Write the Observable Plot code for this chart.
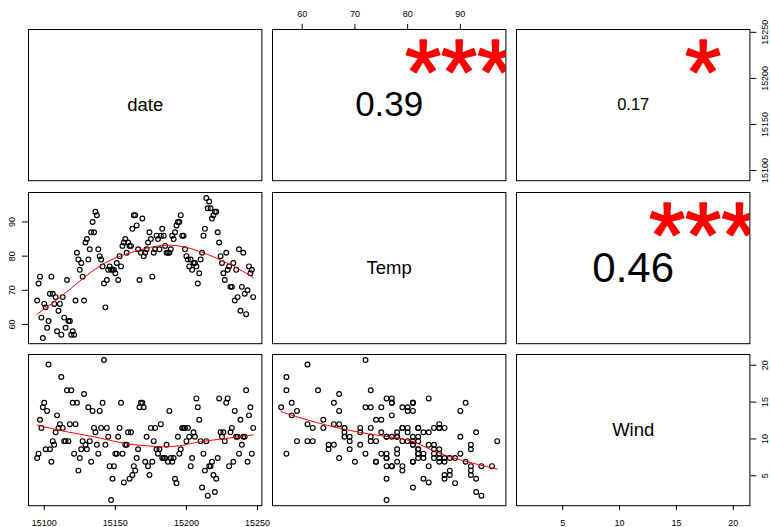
<!DOCTYPE html>
<html><head><meta charset="utf-8">
<script src="https://cdn.jsdelivr.net/npm/d3@7"></script>
<script src="https://cdn.jsdelivr.net/npm/@observablehq/plot@0.6"></script>
<style>
body{margin:0;background:#fff;}
#chart{position:relative;width:770px;height:527px;font-family:"Liberation Sans",Arial,sans-serif;}
#chart svg{position:absolute;overflow:visible;}
</style></head><body><div id="chart"></div>
<script>
// airquality 1973 values, dated 2011-05-01 .. 2011-09-30 (days since 1970-01-01)
const firstDay = 15095;
const temp = [67,72,74,62,56,66,65,59,61,69,74,69,66,68,58,64,66,57,68,62,59,73,61,61,57,58,57,67,81,79,76,
78,74,67,84,85,79,82,87,90,87,93,92,82,80,79,77,72,65,73,76,77,76,76,76,75,78,73,80,77,83,
84,85,81,84,83,83,88,92,92,89,82,73,81,91,80,81,82,84,87,85,74,81,82,86,85,82,86,88,86,83,81,
81,81,82,86,85,87,89,90,90,92,86,86,82,80,79,77,79,76,78,78,77,72,75,79,81,86,88,97,94,96,94,
91,92,93,93,87,84,80,78,75,73,81,76,77,71,71,78,67,76,68,82,64,71,81,69,63,70,77,75,76,68];
const wind = [7.4,8.0,12.6,11.5,14.3,14.9,8.6,13.8,20.1,8.6,6.9,9.7,9.2,10.9,13.2,11.5,12.0,18.4,11.5,9.7,9.7,16.6,9.7,12.0,16.6,14.9,8.0,12.0,14.9,5.7,7.4,
8.6,9.7,16.1,9.2,8.6,14.3,9.7,6.9,13.8,11.5,10.9,9.2,8.0,13.8,11.5,14.9,20.7,9.2,11.5,10.3,6.3,1.7,4.6,6.3,8.0,8.0,10.3,11.5,14.9,8.0,
4.1,9.2,9.2,10.9,4.6,10.9,5.1,6.3,5.7,7.4,8.6,14.3,14.9,14.9,14.3,6.9,10.3,6.3,5.1,11.5,6.9,9.7,11.5,8.6,8.0,8.6,12.0,7.4,7.4,7.4,9.2,
6.9,13.8,7.4,6.9,7.4,4.6,4.0,10.3,8.0,8.6,11.5,11.5,11.5,9.7,11.5,10.3,6.3,7.4,10.9,10.3,15.5,14.3,12.6,9.7,3.4,8.0,5.7,9.7,2.3,6.3,6.3,
6.9,5.1,2.8,4.6,7.4,15.5,10.9,10.3,10.9,9.7,14.9,15.5,6.3,10.9,11.5,6.9,13.8,10.3,10.3,8.0,12.6,9.2,10.3,10.3,16.6,6.9,13.2,14.3,8.0,11.5];
const date = temp.map((_, i) => firstDay + i);

const varNames = ["date", "Temp", "Wind"];
const corrText = ["0.39", "0.17", "0.46"];   // (date,Temp), (date,Wind), (Temp,Wind)
const corrStars = ["***", "*", "***"];
const dateTicks = [15100, 15150, 15200, 15250];
const tempTicks = [60, 70, 80, 90];
const windTicks = [5, 10, 15, 20];

// red smoothers
const smDateTempX = [15095, 15116, 15139.5, 15163, 15186.4, 15209.8, 15233.3, 15247];
const smDateTempY = [63.0, 69.6, 77.2, 81.3, 83.2, 81.3, 77.0, 73.7];
const smDateWindX = [15095, 15116, 15139.5, 15157, 15175, 15186.4, 15198, 15209.8, 15233.3, 15247];
const smDateWindY = [11.88, 10.97, 10.11, 9.38, 9.02, 8.93, 9.16, 9.61, 10.2, 10.56];
const smTempWindX = [56, 61.5, 67.8, 72.9, 77.3, 81.1, 84.9, 90.0, 97];
const smTempWindY = [13.70, 12.47, 11.34, 10.66, 10.2, 9.61, 8.4, 7.16, 5.89];

// layout
const L = [28, 272.3, 516.3], T = [29.3, 191.7, 354], W = 233.4, H = 151.2, M = 40;
const dateDom = [15088.92, 15253.08], tempDom = [54.36, 98.64], windDom = [0.94, 21.46];
const font = "Liberation Sans, Arial, sans-serif";
const chart = document.getElementById("chart");
const fmt = d => String(d);
const tickFont = 9;

function panel(r, c, marks, scales = {}) {
  const p = Plot.plot({
    width: W + 2 * M, height: H + 2 * M, margin: M,
    style: {background: "transparent", fontFamily: font, overflow: "visible"},
    ...scales,
    marks: [...marks, Plot.frame({stroke: "black", strokeWidth: 1})]
  });
  p.style.position = "absolute";
  p.style.left = (L[c] - M) + "px";
  p.style.top = (T[r] - M) + "px";
  chart.append(p);
}
const bottomAxis = ticks => Plot.axisX({anchor: "bottom", ticks, tickFormat: fmt, tickSize: 5, tickPadding: 9.3, fontSize: tickFont, label: null});
const topAxis = ticks => Plot.axisX({anchor: "top", ticks, tickFormat: fmt, tickSize: 6, tickPadding: 6.8, fontSize: tickFont, label: null});
const rightAxis = ticks => Plot.axisY({anchor: "right", ticks, tickFormat: fmt, tickSize: 6, tickPadding: 6.1, tickRotate: -90, textAnchor: "middle", lineAnchor: "top", fontSize: tickFont, label: null});
const leftAxis = ticks => Plot.axisY({anchor: "left", ticks, tickFormat: fmt, tickSize: 6, tickPadding: 7.5, tickRotate: -90, textAnchor: "middle", lineAnchor: "bottom", fontSize: tickFont, label: null});
const nameText = name => Plot.text([name], {frameAnchor: "middle", text: d => d, fontSize: 18.5, fill: "black"});
const corrMarks = (k, size) => [
  Plot.text([corrText[k]], {frameAnchor: "middle", text: d => d, fontSize: size, fill: "black"}),
  Plot.text([corrStars[k]], {frameAnchor: "middle", text: d => d, fontSize: 93, fill: "red",
    stroke: "red", strokeWidth: 1.6, dx: 0.3 * W, dy: -0.3 * H + 0.16 * 93, clip: true})
];
const dots = (xs, ys) => Plot.dot(ys, {x: xs, y: ys, r: 2.4, stroke: "black", strokeWidth: 1.15, fill: "none"});
const smooth = (xs, ys) => Plot.line(xs, {x: xs, y: ys, stroke: "red", strokeWidth: 1, curve: "natural"});

// row 1
panel(0, 0, [nameText(varNames[0])]);
panel(0, 1, [topAxis(tempTicks), ...corrMarks(0, 35)], {x: {domain: tempDom, axis: null}});
panel(0, 2, [rightAxis(dateTicks), ...corrMarks(1, 16.5)], {y: {domain: dateDom, axis: null}});
// row 2
panel(1, 0, [leftAxis(tempTicks), dots(date, temp), smooth(smDateTempX, smDateTempY)],
  {x: {domain: dateDom, axis: null}, y: {domain: tempDom, axis: null}});
panel(1, 1, [nameText(varNames[1])]);
panel(1, 2, [...corrMarks(2, 42)]);
// row 3
panel(2, 0, [bottomAxis(dateTicks), dots(date, wind), smooth(smDateWindX, smDateWindY)],
  {x: {domain: dateDom, axis: null}, y: {domain: windDom, axis: null}});
panel(2, 1, [dots(temp, wind), smooth(smTempWindX, smTempWindY)],
  {x: {domain: tempDom, axis: null}, y: {domain: windDom, axis: null}});
panel(2, 2, [nameText(varNames[2]), bottomAxis(windTicks), rightAxis(windTicks)],
  {x: {domain: windDom, axis: null}, y: {domain: windDom, axis: null}});
</script></body></html>
